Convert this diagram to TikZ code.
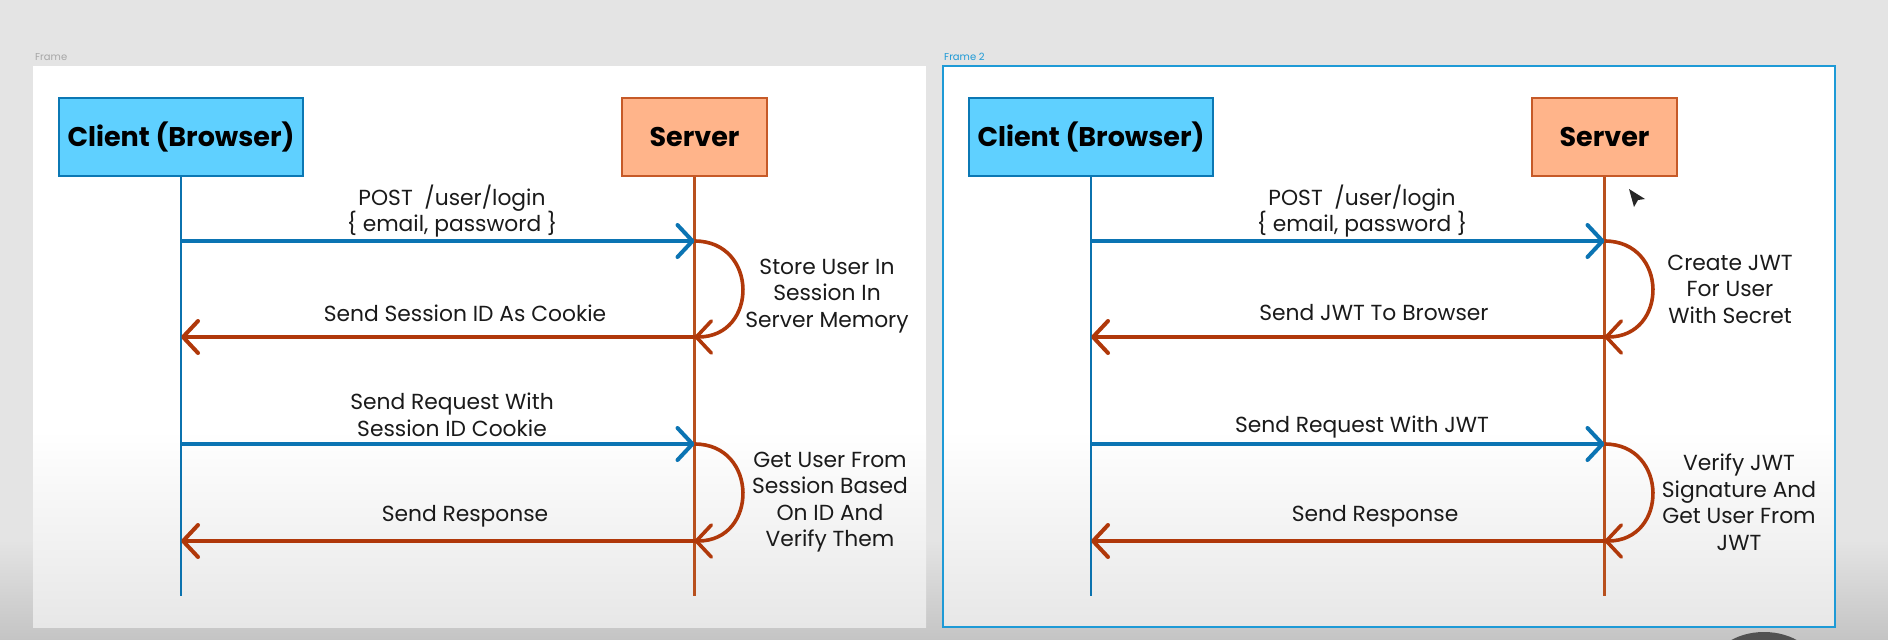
\documentclass[tikz,border=0pt]{standalone}
\usepackage{fontspec}
\setmainfont{Poppins}
\usetikzlibrary{arrows.meta}
\definecolor{bgc}{HTML}{E4E4E4}
\definecolor{bgdark}{HTML}{C4C4C4}
\definecolor{framebot}{HTML}{E7E7E7}
\definecolor{frameblue}{HTML}{1E9AD6}
\definecolor{cfill}{HTML}{5FD0FF}
\definecolor{cdraw}{HTML}{0B78B4}
\definecolor{sfill}{HTML}{FFB48A}
\definecolor{sdraw}{HTML}{C65A28}
\definecolor{blueline}{HTML}{0B72AE}
\definecolor{orangeline}{HTML}{B8501E}
\definecolor{bluearr}{HTML}{0B74B3}
\definecolor{orangearr}{HTML}{B0380A}
\definecolor{txt}{HTML}{1A1A1A}
\tikzset{
  clientbox/.style={draw=cdraw, fill=cfill, line width=2pt, minimum width=244pt, minimum height=78pt, inner sep=0pt,
    font=\fontsize{27}{32}\selectfont\bfseries, text=black},
  serverbox/.style={draw=sdraw, fill=sfill, line width=1.6pt, minimum width=145pt, minimum height=78pt, inner sep=0pt,
    font=\fontsize{27}{32}\selectfont\bfseries, text=black},
  lifeC/.style={draw=blueline, line width=2.4pt},
  lifeS/.style={draw=orangeline, line width=2.2pt},
  tip/.style={-{Straight Barb[length=15pt,width=32pt,round]}},
  msgR/.style={draw=bluearr, line width=4pt, tip},
  msgL/.style={draw=orangearr, line width=4pt, tip},
  selfloop/.style={draw=orangearr, line width=3.6pt, tip},
  lbl/.style={font=\fontsize{21.8}{26.5}\selectfont, text=txt, align=center, inner sep=0pt},
  framelbl/.style={font=\fontsize{10}{12}\selectfont, anchor=west, inner sep=0pt}
}
\begin{document}
\begin{tikzpicture}[x=1pt,y=-1pt]
\useasboundingbox (0,0) rectangle (1888,640);
\begin{scope}
\clip (0,0) rectangle (1888,640);
% background
\fill[bgc] (0,0) rectangle (1888,640);
\shade[top color=bgc, bottom color=bgdark] (0,540) rectangle (1888,640);
% frames
\fill[white] (33,66) rectangle (926,627);
\shade[top color=white, bottom color=framebot] (33,430) rectangle (926,627);
\fill[white] (943,66) rectangle (1835,627);
\shade[top color=white, bottom color=framebot] (943,430) rectangle (1835,627);
\draw[frameblue, line width=2.5pt] (943,66) rectangle (1835,627);
\node[framelbl, text=gray!70] (f1) at (35,57) {Frame};
\node[framelbl, text=frameblue] (f2) at (944,57) {Frame 2};
% bottom dark ellipse (player element)
\fill[black!68] (1764,668) ellipse [x radius=52, y radius=36];
\end{scope}

% ===== Left diagram =====
\node[clientbox] (cb1) at (181,137) {Client (Browser)};
\node[serverbox] (sb1) at (694.5,137) {Server};
\coordinate (cb1end) at (181,596);
\coordinate (sb1end) at (694.5,596);
\draw[lifeC] (cb1.south) -- (cb1end);
\draw[lifeS] (sb1.south) -- (sb1end);
\coordinate (c1a) at (181,241);
\coordinate (s1a) at (694.5,241);
\coordinate (c1b) at (181,337);
\coordinate (s1b) at (694.5,337);
\coordinate (c1c) at (181,444);
\coordinate (s1c) at (694.5,444);
\coordinate (c1d) at (181,541);
\coordinate (s1d) at (694.5,541);
\draw[selfloop] (s1a) .. controls +(64,0) and +(64,0) .. (s1b);
\draw[selfloop] (s1c) .. controls +(64,0) and +(64,0) .. (s1d);
\draw[msgR] (c1a) -- (s1a);
\draw[msgL] (s1b) -- (c1b);
\draw[msgR] (c1c) -- (s1c);
\draw[msgL] (s1d) -- (c1d);
\node[lbl] (l1a) at (452,211) {POST\ \ /user/login\\\{ email, password \}};
\node[lbl] (l1b) at (465,313) {Send Session ID As Cookie};
\node[lbl] (l1c) at (452,415) {Send Request With\\Session ID Cookie};
\node[lbl] (l1d) at (465,516) {Send Response};
\node[lbl] (n1a) at (827,296) {Store User In\\Session In\\Server Memory};
\node[lbl] (n1b) at (830,502) {Get User From\\Session Based\\On ID And\\Verify Them};

% ===== Right diagram =====
\node[clientbox] (cb2) at (1091,137) {Client (Browser)};
\node[serverbox] (sb2) at (1604.5,137) {Server};
\coordinate (cb2end) at (1091,596);
\coordinate (sb2end) at (1604.5,596);
\draw[lifeC] (cb2.south) -- (cb2end);
\draw[lifeS] (sb2.south) -- (sb2end);
\coordinate (c2a) at (1091,241);
\coordinate (s2a) at (1604.5,241);
\coordinate (c2b) at (1091,337);
\coordinate (s2b) at (1604.5,337);
\coordinate (c2c) at (1091,444);
\coordinate (s2c) at (1604.5,444);
\coordinate (c2d) at (1091,541);
\coordinate (s2d) at (1604.5,541);
\draw[selfloop] (s2a) .. controls +(64,0) and +(64,0) .. (s2b);
\draw[selfloop] (s2c) .. controls +(64,0) and +(64,0) .. (s2d);
\draw[msgR] (c2a) -- (s2a);
\draw[msgL] (s2b) -- (c2b);
\draw[msgR] (c2c) -- (s2c);
\draw[msgL] (s2d) -- (c2d);
\node[lbl] (l2a) at (1362,211) {POST\ \ /user/login\\\{ email, password \}};
\node[lbl] (l2b) at (1374,313) {Send JWT To Browser};
\node[lbl] (l2c) at (1362,427) {Send Request With JWT};
\node[lbl] (l2d) at (1375,516) {Send Response};
\node[lbl] (n2a) at (1730,289) {Create JWT\\For User\\With Secret};
\node[lbl] (n2b) at (1739,502) {Verify JWT\\Signature And\\Get User From\\JWT};

% mouse cursor
\fill[black!85] (1629,189) -- (1645,199) -- (1638,200) -- (1634,207) -- cycle;
\end{tikzpicture}
\end{document}
